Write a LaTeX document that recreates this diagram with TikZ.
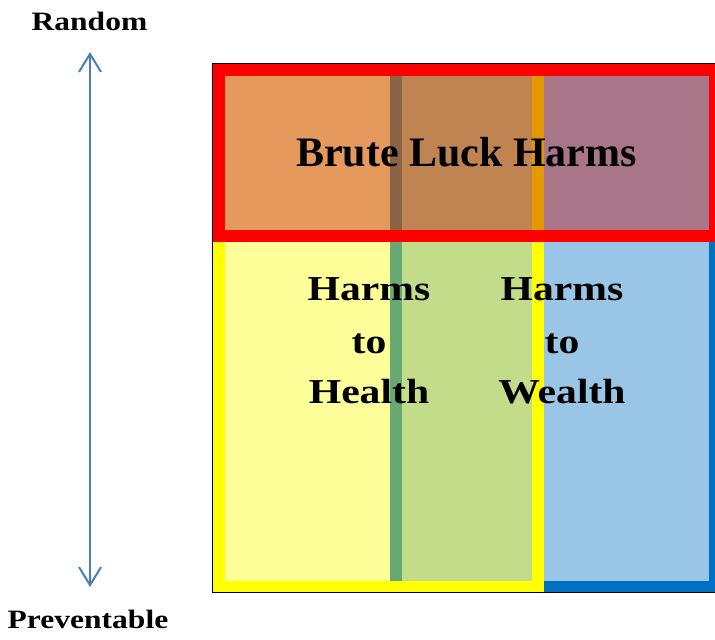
\documentclass[tikz,border=0pt]{standalone}
\usepackage{fontspec}
\setmainfont{Liberation Serif}
\newfontfamily\widefont[FakeStretch=1.19]{Liberation Serif}
\usetikzlibrary{arrows.meta}
\definecolor{pblue}{HTML}{0070C0}
\definecolor{pyellow}{HTML}{FFFF00}
\definecolor{pdark}{HTML}{C00000}
\definecolor{pred}{HTML}{FF0000}
\definecolor{arrowblue}{RGB}{74,126,187}
\begin{document}
\begin{tikzpicture}[x=1pt,y=-1pt,
  region/.style={line width=12pt, fill opacity=0.4},
  biglabel/.style={font=\fontsize{42}{50}\selectfont\bfseries, anchor=base, inner sep=0pt},
  midlabel/.style={font=\widefont\fontsize{35}{50}\selectfont\bfseries, anchor=base, inner sep=0pt},
  sidelabel/.style={font=\widefont\fontsize{26.5}{32}\selectfont\bfseries, anchor=base, inner sep=0pt},
  axis/.style={draw=arrowblue, line width=2pt, {Straight Barb[length=18pt,width=22pt]}-{Straight Barb[length=18pt,width=22pt]}}
]
\useasboundingbox (0,0) rectangle (715,640);
\clip (0,0) rectangle (715,640);
% regions
\draw[region, draw=pblue, fill=pblue] (395.5,70) rectangle (715,587);
\draw[region, draw=pyellow, fill=pyellow] (218.5,70) rectangle (538,587);
\draw[region, draw=pred, fill=pdark] (219,70) rectangle (715,235.5);
\draw[line width=1.5pt] (212.5,63.5) rectangle (730,592.5);
% labels
\node[biglabel] (brute) at (466.5,166) {Brute Luck Harms};
\node[midlabel] (h1) at (369,300) {Harms};
\node[midlabel] (h2) at (369,353) {to};
\node[midlabel] (h3) at (369,403) {Health};
\node[midlabel] (w1) at (562,300) {Harms};
\node[midlabel] (w2) at (562,353) {to};
\node[midlabel] (w3) at (562,403) {Wealth};
\node[sidelabel] (random) at (89.5,30.7) {Random};
\node[sidelabel] (prev) at (88,628) {Preventable};
% axis arrow
\coordinate (atop) at (90,52);
\coordinate (abot) at (90,587);
\draw[axis] (atop) -- (abot);
\end{tikzpicture}
\end{document}
